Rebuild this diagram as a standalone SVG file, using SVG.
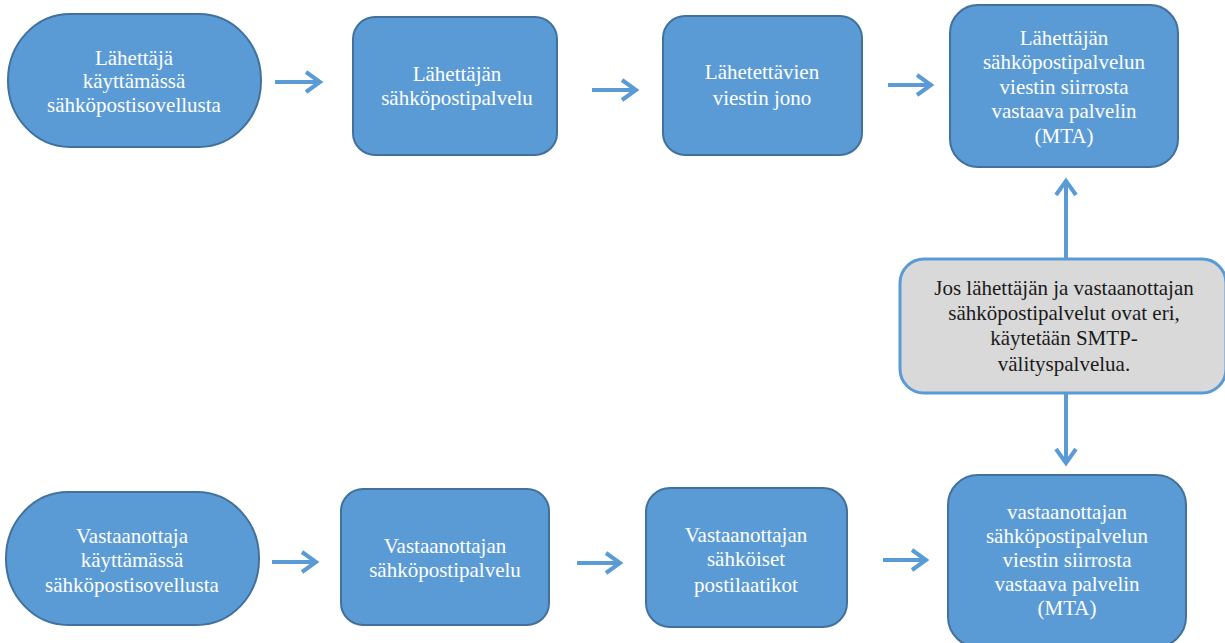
<svg xmlns="http://www.w3.org/2000/svg" width="1225" height="643" viewBox="0 0 1225 643">
  <style>
    .node { fill: #5b9bd5; stroke: #41719c; stroke-width: 2; }
    .note { fill: #d9d9d9; stroke: #5b9bd5; stroke-width: 3; }
    .lbl { font-family: "Liberation Serif", "Times New Roman", serif; font-size: 21px; fill: #ffffff; text-anchor: middle; }
    .lbl-dark { font-family: "Liberation Serif", "Times New Roman", serif; font-size: 21px; fill: #1a1a1a; text-anchor: middle; }
    .conn { fill: none; stroke: #5b9bd5; stroke-width: 4; }
  </style>
  <defs>
    <marker id="chevron" markerUnits="userSpaceOnUse" markerWidth="40" markerHeight="40" viewBox="-20 -20 40 40" refX="0" refY="0" orient="auto" overflow="visible">
      <path d="M-14,-10 L0,0 L-14,10" fill="none" stroke="#5b9bd5" stroke-width="4" stroke-linejoin="miter"/>
    </marker>
  </defs>
  <rect width="1225" height="643" fill="#ffffff"/>

  <!-- sending side -->
  <g id="sender-client">
    <rect class="node" x="8" y="14" width="253" height="133" rx="62" ry="66"/>
    <text class="lbl" x="134" y="65">Lähettäjä</text>
    <text class="lbl" x="134" y="88">käyttämässä</text>
    <text class="lbl" x="134" y="112">sähköpostisovellusta</text>
  </g>
  <g id="sender-service">
    <rect class="node" x="353" y="17" width="204" height="138" rx="22"/>
    <text class="lbl" x="457" y="81">Lähettäjän</text>
    <text class="lbl" x="457" y="105">sähköpostipalvelu</text>
  </g>
  <g id="outgoing-queue">
    <rect class="node" x="663" y="16" width="199" height="139" rx="22"/>
    <text class="lbl" x="762" y="79">Lähetettävien</text>
    <text class="lbl" x="762" y="105">viestin jono</text>
  </g>
  <g id="sender-mta">
    <rect class="node" x="950" y="5" width="228" height="162" rx="28"/>
    <text class="lbl" x="1064" y="45">Lähettäjän</text>
    <text class="lbl" x="1064" y="69">sähköpostipalvelun</text>
    <text class="lbl" x="1064" y="94">viestin siirrosta</text>
    <text class="lbl" x="1064" y="118">vastaava palvelin</text>
    <text class="lbl" x="1064" y="143">(MTA)</text>
  </g>

  <!-- relay note -->
  <g id="smtp-relay">
    <rect class="note" x="900" y="259" width="326" height="134" rx="24"/>
    <text class="lbl-dark" x="1064" y="295">Jos lähettäjän ja vastaanottajan</text>
    <text class="lbl-dark" x="1064" y="320">sähköpostipalvelut ovat eri,</text>
    <text class="lbl-dark" x="1064" y="345">käytetään SMTP-</text>
    <text class="lbl-dark" x="1064" y="371">välityspalvelua.</text>
  </g>

  <!-- receiving side -->
  <g id="recipient-client">
    <rect class="node" x="6" y="492" width="253" height="133" rx="62" ry="66"/>
    <text class="lbl" x="132" y="543">Vastaanottaja</text>
    <text class="lbl" x="132" y="567">käyttämässä</text>
    <text class="lbl" x="132" y="592">sähköpostisovellusta</text>
  </g>
  <g id="recipient-service">
    <rect class="node" x="341" y="489" width="208" height="136" rx="22"/>
    <text class="lbl" x="445" y="553">Vastaanottajan</text>
    <text class="lbl" x="445" y="577">sähköpostipalvelu</text>
  </g>
  <g id="recipient-mailboxes">
    <rect class="node" x="646" y="488" width="201" height="139" rx="24"/>
    <text class="lbl" x="746" y="542">Vastaanottajan</text>
    <text class="lbl" x="746" y="566">sähköiset</text>
    <text class="lbl" x="746" y="592">postilaatikot</text>
  </g>
  <g id="recipient-mta">
    <rect class="node" x="948" y="475" width="238" height="172" rx="30"/>
    <text class="lbl" x="1067" y="519">vastaanottajan</text>
    <text class="lbl" x="1067" y="543">sähköpostipalvelun</text>
    <text class="lbl" x="1067" y="567">viestin siirrosta</text>
    <text class="lbl" x="1067" y="591">vastaava palvelin</text>
    <text class="lbl" x="1067" y="615">(MTA)</text>
  </g>

  <!-- connectors -->
  <g id="connectors">
    <path class="conn" d="M275,82 H320" marker-end="url(#chevron)"/>
    <path class="conn" d="M592,90 H636" marker-end="url(#chevron)"/>
    <path class="conn" d="M888,85 H931" marker-end="url(#chevron)"/>
    <path class="conn" d="M1066,259 V181" marker-end="url(#chevron)"/>
    <path class="conn" d="M1066,393 V463" marker-end="url(#chevron)"/>
    <path class="conn" d="M272,562 H316" marker-end="url(#chevron)"/>
    <path class="conn" d="M577,563 H620" marker-end="url(#chevron)"/>
    <path class="conn" d="M883,560 H926" marker-end="url(#chevron)"/>
  </g>
</svg>
